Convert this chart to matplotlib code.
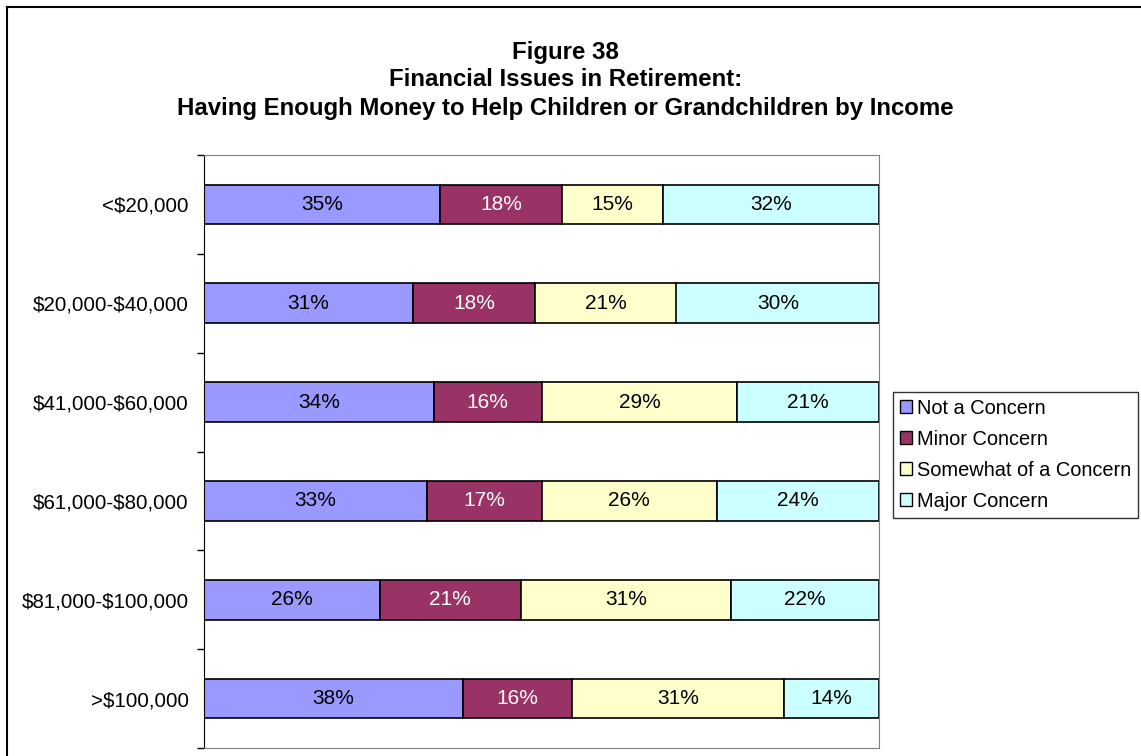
import numpy as np
import matplotlib.pyplot as plt
from matplotlib.lines import Line2D

plt.rcParams['font.family'] = ['Liberation Sans', 'DejaVu Sans']
plt.rcParams['text.parse_math'] = False

categories = ['<$20,000', '$20,000-$40,000', '$41,000-$60,000',
              '$61,000-$80,000', '$81,000-$100,000', '>$100,000']
series = ['Not a Concern', 'Minor Concern', 'Somewhat of a Concern', 'Major Concern']
not_concern = [35, 31, 34, 33, 26, 38]
minor = [18, 18, 16, 17, 21, 16]
somewhat = [15, 21, 29, 26, 31, 31]
major = [32, 30, 21, 24, 22, 14]
colors = ['#9999FF', '#993366', '#FFFFCC', '#CCFFFF']
text_colors = ['black', 'white', 'black', 'black']

values = np.array([not_concern, minor, somewhat, major], dtype=float)
shares = values / values.sum(axis=0)  # 100% stacked

fig = plt.figure(figsize=(11.41, 7.56), dpi=100)
ax = fig.add_axes([204 / 1141, 8 / 756, 675 / 1141, 593 / 756])

y = np.arange(len(categories))
left = np.zeros(len(categories))
for i, name in enumerate(series):
    bars = ax.barh(y, shares[i], left=left, height=0.4, color=colors[i],
                   edgecolor='black', linewidth=1.2, label=name)
    for j, b in enumerate(bars):
        ax.text(left[j] + shares[i][j] / 2, y[j], f'{int(values[i][j])}%',
                ha='center', va='center', fontsize=15, color=text_colors[i])
    left += shares[i]

ax.set_xlim(0, 1)
ax.set_ylim(len(categories) - 0.5, -0.5)
ax.set_xticks([])
ax.set_yticks(y)
ax.set_yticklabels(categories, fontsize=14.8)
ax.set_yticks(np.arange(-0.5, len(categories)), minor=True)
ax.tick_params(axis='y', which='major', length=0, pad=11)
ax.tick_params(axis='y', which='minor', length=5, width=1, color='black')
for s in ['top', 'right', 'bottom']:
    ax.spines[s].set_color('#808080')
ax.spines['left'].set_color('black')

title_x = 565.5 / 1141
fig.text(title_x, 1 - 52 / 756, 'Figure 38', ha='center', va='center',
         fontsize=17.3, fontweight='bold')
fig.text(title_x, 1 - 80 / 756, 'Financial Issues in Retirement:', ha='center',
         va='center', fontsize=17.3, fontweight='bold')
fig.text(title_x, 1 - 109 / 756,
         'Having Enough Money to Help Children or Grandchildren by Income',
         ha='center', va='center', fontsize=17.3, fontweight='bold')

leg = ax.legend(loc='upper left', bbox_to_anchor=(893 / 1141, 1 - 392 / 756),
                bbox_transform=fig.transFigure, fontsize=14.4, frameon=True,
                fancybox=False, edgecolor='black', handlelength=0.6,
                handleheight=0.6, handletextpad=0.25, labelspacing=0.6,
                borderpad=0.34, borderaxespad=0)
leg.get_frame().set_linewidth(1)
for h in leg.legend_handles:
    h.set_linewidth(1)

# outer chart border (top and left visible)
fig.add_artist(Line2D([7 / 1141, 7 / 1141], [0, 1 - 7 / 756], color='black', lw=1.5,
                      transform=fig.transFigure))
fig.add_artist(Line2D([7 / 1141, 1], [1 - 7 / 756, 1 - 7 / 756], color='black', lw=1.5,
                      transform=fig.transFigure))

fig.savefig('out.png', dpi=100)
